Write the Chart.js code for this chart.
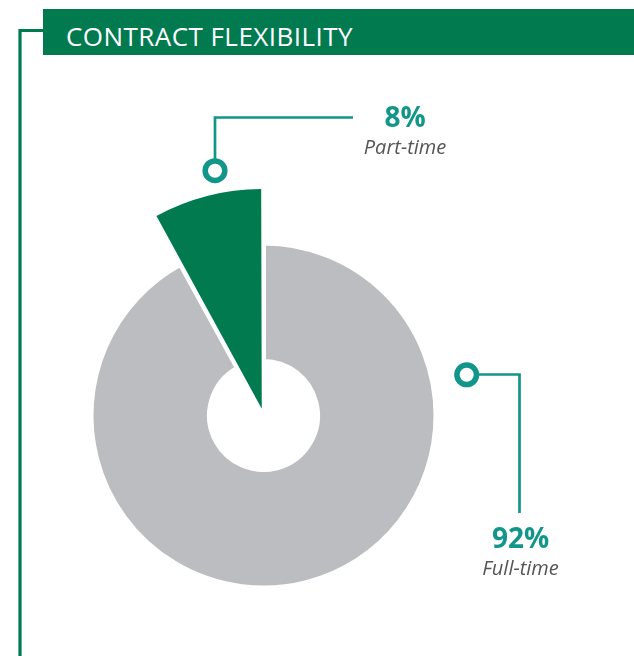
<!DOCTYPE html>
<html>
<head>
<meta charset="utf-8">
<script src="https://cdn.jsdelivr.net/npm/chart.js@4"></script>
<style>
  html, body { margin: 0; padding: 0; background: #fff; }
  #stage { position: relative; width: 634px; height: 656px; overflow: hidden; font-family: 'Open Sans', sans-serif; }
  #stage canvas, #stage svg { position: absolute; left: 0; top: 0; }
  .title {
    position: absolute; left: 43px; top: 9px; width: 591px; height: 46px;
    box-sizing: border-box; padding: 4px 0 0 23px;
    background: #007a4e; color: #fff; font-size: 26px; line-height: 46px;
    letter-spacing: 0.45px; white-space: nowrap; overflow: hidden;
  }
  .pct, .name { position: absolute; transform: translateX(-50%); white-space: nowrap; }
  .pct { color: #12968a; font-weight: 700; font-size: 28px; line-height: 28px; }
  .name { color: #555; font-style: italic; font-size: 20px; line-height: 20px; }
</style>
</head>
<body>
<div id="stage">
  <svg width="634" height="656">
    <!-- frame running down the left side -->
    <polyline points="43,30.5 20,30.5 20,656" fill="none" stroke="#007a4e" stroke-width="3.2"/>
    <!-- leader lines -->
    <g fill="none" stroke="#12968a" stroke-width="2.7">
      <polyline points="353,117.5 215,117.5 215,161"/>
      <polyline points="476,374.5 519.5,374.5 519.5,513"/>
    </g>
    <g fill="#fff" stroke="#12968a" stroke-width="5.5">
      <circle cx="215" cy="170.7" r="9.8"/>
      <circle cx="466.7" cy="374.8" r="9.8"/>
    </g>
  </svg>
  <canvas id="ring" width="634" height="656"></canvas>
  <canvas id="wedge" width="634" height="656"></canvas>
  <div class="title" id="title"></div>
</div>

<script>
// ── Data ──────────────────────────────────────────────────────────────────────
const TITLE = 'CONTRACT FLEXIBILITY';
const SEGMENTS = ['Full-time', 'Part-time'];
const SHARES = [92, 8];

const GREY = '#bcbdc0';
const GREEN = '#007a4e';
const NONE = 'rgba(0,0,0,0)';

// label anchors (centre x, top y of the percentage line)
const LABEL_POS = [
  { x: 520.5, y: 523 },   // Full-time
  { x: 405,   y: 102 },   // Part-time
];

document.getElementById('title').textContent = TITLE;

// ── Shared options: chart centred at (263.5, 415.5) ──────────────────────────
function baseOptions(extra) {
  return Object.assign({
    responsive: false,
    animation: false,
    events: [],
    layout: { padding: { left: 0, right: 107, top: 175, bottom: 0 } },
    plugins: { legend: { display: false }, tooltip: { enabled: false } },
  }, extra);
}

// grey ring (full-time share), white border opens the gap next to the wedge
new Chart(document.getElementById('ring'), {
  type: 'doughnut',
  data: {
    labels: SEGMENTS,
    datasets: [{
      data: SHARES,
      backgroundColor: [GREY, NONE],
      borderColor: '#fff',
      borderWidth: [5, 0],
    }],
  },
  options: baseOptions({ radius: 172.5, cutout: '31.3%' }),
});

// green wedge (part-time share), bigger and pulled out of the ring
new Chart(document.getElementById('wedge'), {
  type: 'pie',
  data: {
    labels: SEGMENTS,
    datasets: [{
      data: SHARES,
      backgroundColor: [NONE, GREEN],
      borderWidth: 0,
      offset: [0, 28],
    }],
  },
  options: baseOptions({ radius: 216 }),
});

// ── Value labels ──────────────────────────────────────────────────────────────
const stage = document.getElementById('stage');
SEGMENTS.forEach((name, i) => {
  const p = LABEL_POS[i];
  const pct = document.createElement('div');
  pct.className = 'pct';
  pct.style.left = p.x + 'px';
  pct.style.top = p.y + 'px';
  pct.textContent = SHARES[i] + '%';
  const lbl = document.createElement('div');
  lbl.className = 'name';
  lbl.style.left = p.x + 'px';
  lbl.style.top = (p.y + 35) + 'px';
  lbl.textContent = name;
  stage.appendChild(pct);
  stage.appendChild(lbl);
});
</script>
</body>
</html>
